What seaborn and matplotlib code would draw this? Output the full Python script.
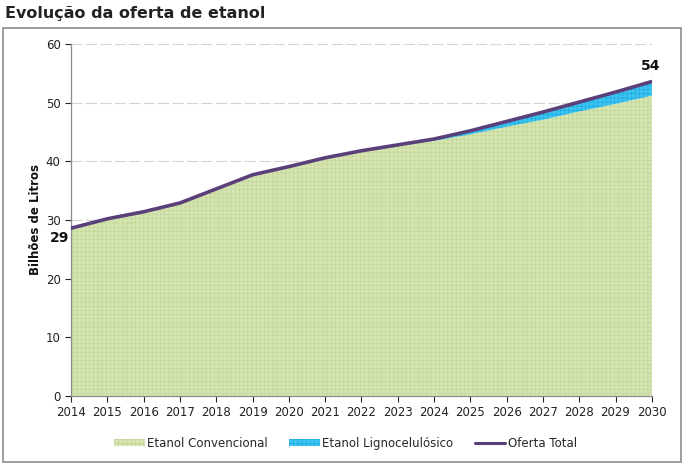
import matplotlib
matplotlib.use("Agg")
import matplotlib.pyplot as plt
import matplotlib.patches as mpatches
from matplotlib.lines import Line2D
import pandas as pd
import seaborn as sns

# data
years = list(range(2014, 2031))
total = [28.6, 30.2, 31.4, 32.9, 35.3, 37.7, 39.1, 40.6, 41.8, 42.8, 43.8,
         45.2, 46.8, 48.4, 50.1, 51.8, 53.6]
ligno = [0, 0, 0, 0, 0, 0, 0, 0, 0, 0.1, 0.3,
         0.6, 0.9, 1.3, 1.6, 2.0, 2.4]
convencional = [t - l for t, l in zip(total, ligno)]

df = pd.DataFrame({"ano": years, "total": total, "conv": convencional})

sns.set_style("white")
plt.rcParams["font.family"] = ["DejaVu Sans"]
plt.rcParams["hatch.linewidth"] = 0.4

fig = plt.figure(figsize=(6.84, 4.68), dpi=100)
ax = fig.add_axes([0.104, 0.154, 0.849, 0.752])

# outer frame
fig.patches.append(mpatches.Rectangle((0.005, 0.012), 0.99, 0.928, transform=fig.transFigure,
                                      fill=False, edgecolor="#8c8c8c", linewidth=1.2))
fig.text(0.008, 0.972, "Evolução da oferta de etanol", fontsize=11.5, fontweight="bold",
         color="#222222", va="center", ha="left")

for y in [10, 20, 30, 40, 50, 60]:
    ax.axhline(y, color="#d4d4d4", linewidth=0.8, linestyle=(0, (10, 3)), zorder=0)

green = "#d5e4b2"
blue = "#3cc3f0"
ax.fill_between(df["ano"], 0, df["conv"], facecolor=green, edgecolor="#bfd590",
                hatch="++++", linewidth=0, zorder=1)
ax.fill_between(df["ano"], df["conv"], df["total"], facecolor=blue, edgecolor="#1aa7dd",
                hatch="++++", linewidth=0, zorder=1)
sns.lineplot(data=df, x="ano", y="total", ax=ax, color="#5b3f7a", linewidth=2.6, zorder=3)

ax.set_xlim(2014, 2030)
ax.set_ylim(0, 60)
ax.set_xticks(years)
ax.set_xticklabels([str(y) for y in years], fontsize=8.5, color="#222222")
ax.set_yticks(range(0, 61, 10))
ax.tick_params(axis="y", labelsize=8.5, colors="#222222", length=4, width=0.8, direction="out", left=True)
ax.tick_params(axis="x", length=4, width=0.8, direction="out", bottom=True, labelcolor="#222222")
ax.set_xlabel("")
ax.set_ylabel("Bilhões de Litros", fontsize=8.5, fontweight="bold", color="#111111", labelpad=3)
for s in ["top", "right"]:
    ax.spines[s].set_visible(False)
for s in ["left", "bottom"]:
    ax.spines[s].set_color("#8c8c8c")
    ax.spines[s].set_linewidth(0.9)

ax.annotate(f"{round(total[0])}", xy=(years[0], total[0]), xytext=(-1, -7), textcoords="offset points",
            ha="right", va="center", fontsize=10, fontweight="bold", color="#111111", annotation_clip=False)
ax.annotate(f"{round(total[-1])}", xy=(years[-1], total[-1]), xytext=(-1, 11), textcoords="offset points",
            ha="center", va="center", fontsize=10, fontweight="bold", color="#111111", annotation_clip=False)

handles = [mpatches.Patch(facecolor=green, edgecolor="#bfd590", hatch="++++", linewidth=0),
           mpatches.Patch(facecolor=blue, edgecolor="#1aa7dd", hatch="++++", linewidth=0),
           Line2D([0], [0], color="#5b3f7a", linewidth=2.2)]
labels = ["Etanol Convencional", "Etanol Lignocelulósico", "Oferta Total"]
fig.legend(handles, labels, loc="center", bbox_to_anchor=(0.505, 0.053), ncol=3, frameon=False,
           fontsize=8.5, handlelength=2.6, handleheight=0.6, columnspacing=1.8, handletextpad=0.2)

fig.savefig("out.png", dpi=100)
